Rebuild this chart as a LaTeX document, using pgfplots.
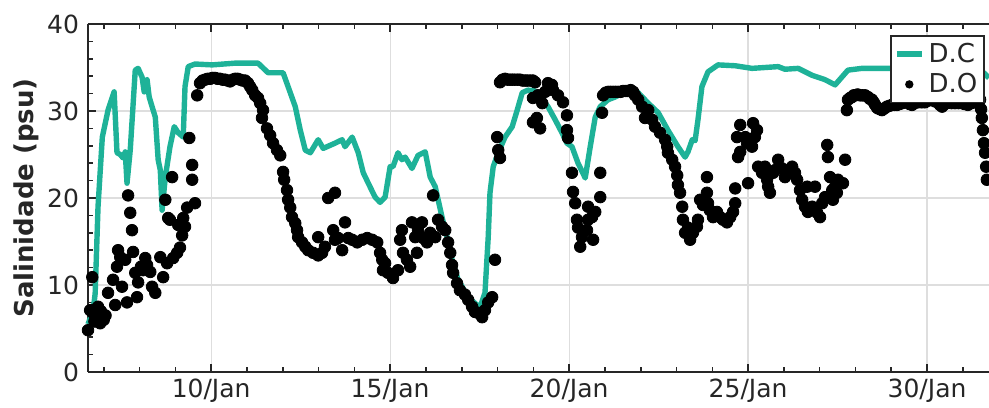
\documentclass[border=0pt]{standalone}
\usepackage{fontspec}
\setmainfont{DejaVu Sans}
\usepackage{pgfplots}
\usepackage{pgfplotstable}
\pgfplotsset{compat=1.18}

\definecolor{dcteal}{RGB}{30,178,152}
\definecolor{axisgray}{RGB}{38,38,38}
\definecolor{gridgray}{RGB}{222,222,222}

\pgfplotsset{
  dolegend/.style={legend image code/.code={
      \path[draw=none] (0pt,0pt) -- (12.5pt,0pt);
      \fill[black, draw=none] (6.25pt,0pt) circle (2.1pt);}},
  dclegend/.style={legend image code/.code={
      \draw[##1] (0pt,0pt) -- (12.5pt,0pt);}},
}

% D.C : continuous salinity record (day of January, psu)
\pgfplotstableread{
day sal
6.56 5.5
6.70 7.0
6.76 9.0
6.80 14.0
6.84 19.0
6.90 23.0
6.96 27.0
7.12 30.1
7.29 32.2
7.37 25.2
7.46 25.0
7.54 24.6
7.60 25.3
7.65 21.7
7.74 25.5
7.88 34.7
7.96 34.9
8.07 33.9
8.13 32.2
8.21 33.6
8.27 31.6
8.35 30.5
8.44 29.3
8.52 24.4
8.58 23.2
8.63 18.6
8.72 22.4
8.85 25.9
8.97 28.2
9.08 27.5
9.22 27.0
9.27 32.8
9.36 35.1
9.55 35.4
10.03 35.3
10.67 35.5
11.31 35.5
11.59 34.4
12.01 34.4
12.15 32.8
12.35 30.5
12.49 27.8
12.63 25.5
12.77 25.2
12.99 26.7
13.13 25.7
13.46 26.3
13.66 26.7
13.74 25.9
13.94 27.0
14.11 25.2
14.25 22.9
14.39 21.7
14.58 20.1
14.72 19.5
14.86 20.1
15.00 23.6
15.08 23.6
15.22 25.2
15.33 24.4
15.42 24.7
15.61 23.4
15.78 24.9
15.98 25.3
16.12 22.4
16.26 21.3
16.45 17.8
16.59 15.5
16.73 12.9
16.90 10.6
17.18 8.6
17.51 7.4
17.65 9.1
17.74 15.5
17.79 20.6
17.88 23.6
18.02 25.2
18.21 27.0
18.41 28.2
18.55 30.1
18.69 32.1
18.85 32.4
19.05 32.3
19.25 31.3
19.41 30.5
19.61 29.0
19.80 27.5
19.94 26.3
20.08 25.9
20.25 24.0
20.45 22.3
20.59 25.9
20.73 29.3
20.87 30.5
21.09 31.3
21.28 31.6
21.56 32.2
21.76 32.6
21.93 32.1
22.21 30.9
22.49 29.8
22.76 27.8
23.04 25.9
23.24 24.7
23.32 25.3
23.44 26.7
23.52 26.6
23.60 29.0
23.71 32.8
23.88 34.5
24.16 35.3
24.64 35.2
25.11 34.9
25.84 35.1
26.03 34.8
26.40 34.9
26.79 34.1
27.15 33.6
27.43 33.0
27.79 34.7
28.18 34.9
29.30 34.9
31.48 34.8
31.73 33.8
}\dctable

% D.O : discrete observations (day of January, psu)
\pgfplotstableread{
day sal
6.56 4.8
6.62 7.1
6.68 10.9
6.70 6.8
6.74 5.8
6.76 7.2
6.80 6.0
6.84 7.5
6.86 6.7
6.90 5.6
6.92 7.0
6.95 6.3
7.00 6.0
7.05 6.5
7.12 9.1
7.26 10.6
7.32 7.7
7.37 12.1
7.40 14.0
7.46 13.2
7.51 9.8
7.60 12.9
7.65 8.0
7.68 20.3
7.74 18.3
7.79 16.3
7.82 13.8
7.88 11.4
7.93 8.6
7.96 10.3
8.04 12.1
8.10 11.7
8.16 13.1
8.21 12.3
8.30 11.5
8.35 9.8
8.44 9.1
8.58 13.2
8.66 10.9
8.72 19.8
8.77 12.5
8.80 17.7
8.85 17.5
8.91 22.4
8.94 13.1
9.05 13.7
9.08 16.9
9.13 14.3
9.19 15.7
9.22 17.7
9.27 16.7
9.33 18.9
9.39 26.9
9.47 23.8
9.47 22.1
9.55 19.4
9.61 31.8
9.69 33.2
9.76 33.5
9.83 33.6
9.90 33.7
9.97 33.7
10.04 33.8
10.11 33.8
10.18 33.7
10.25 33.7
10.32 33.6
10.39 33.6
10.46 33.5
10.53 33.4
10.60 33.6
10.67 33.7
10.74 33.7
10.81 33.6
10.88 33.5
10.95 33.5
11.03 33.2
11.09 32.8
11.15 32.4
11.23 31.8
11.31 31.5
11.37 30.9
11.42 29.2
11.45 30.1
11.56 28.0
11.65 27.2
11.73 26.3
11.84 25.5
11.93 24.9
12.01 23.0
12.04 22.1
12.12 20.9
12.15 19.8
12.21 18.9
12.26 17.8
12.35 17.1
12.40 16.3
12.43 15.5
12.54 14.9
12.63 14.4
12.71 14.0
12.85 13.7
12.99 13.4
12.99 15.5
13.10 13.7
13.18 14.4
13.27 20.0
13.41 16.3
13.46 20.6
13.46 15.2
13.55 15.4
13.66 14.0
13.74 17.2
13.83 15.4
13.94 15.2
14.08 14.9
14.22 15.2
14.36 15.4
14.50 15.2
14.64 14.9
14.72 13.7
14.78 12.9
14.80 11.7
14.86 12.5
14.94 11.4
15.08 10.8
15.22 11.7
15.28 15.2
15.33 16.3
15.36 13.7
15.47 12.9
15.56 12.1
15.61 17.2
15.70 15.5
15.75 13.7
15.78 16.3
15.89 17.2
15.92 15.4
16.03 14.9
16.12 16.0
16.20 20.3
16.26 15.5
16.34 17.5
16.45 16.7
16.54 16.3
16.62 14.9
16.68 13.7
16.73 12.3
16.76 11.4
16.87 10.2
16.95 9.4
17.09 8.9
17.18 8.3
17.29 7.5
17.37 6.9
17.46 6.8
17.57 6.3
17.65 7.1
17.74 8.0
17.85 8.6
17.93 12.9
17.99 27.0
18.02 25.5
18.07 24.6
18.07 33.3
18.14 33.6
18.21 33.7
18.28 33.6
18.35 33.6
18.41 33.6
18.48 33.6
18.56 33.6
18.63 33.6
18.70 33.5
18.77 33.5
18.83 33.5
18.91 33.5
18.99 33.5
18.99 31.5
18.99 28.7
19.05 33.3
19.10 29.2
19.13 31.8
19.19 28.0
19.25 30.9
19.33 32.2
19.41 33.2
19.52 33.0
19.55 32.4
19.69 31.8
19.83 31.0
19.94 29.5
19.94 27.8
19.97 26.9
20.08 22.9
20.11 20.7
20.17 19.4
20.22 17.5
20.25 16.6
20.31 14.4
20.36 15.5
20.50 16.3
20.53 17.5
20.53 19.0
20.64 17.8
20.67 15.2
20.73 18.4
20.87 22.9
20.87 20.1
20.92 29.8
20.95 31.8
21.02 32.1
21.09 32.2
21.16 32.2
21.23 32.2
21.30 32.2
21.37 32.2
21.44 32.2
21.51 32.3
21.58 32.3
21.65 32.3
21.72 32.4
21.79 32.2
21.84 31.8
21.93 31.3
22.04 30.5
22.12 29.2
22.21 30.1
22.32 29.0
22.40 28.2
22.54 27.5
22.68 26.7
22.74 25.9
22.76 25.2
22.88 24.4
22.96 23.6
23.02 22.6
23.04 21.5
23.10 20.6
23.16 19.0
23.18 17.5
23.24 16.0
23.32 16.6
23.38 15.2
23.46 16.0
23.57 16.7
23.60 17.5
23.66 19.8
23.74 19.2
23.85 20.6
23.85 22.4
23.88 19.4
23.93 18.6
24.02 17.8
24.13 18.4
24.22 17.8
24.30 17.5
24.41 17.2
24.50 17.8
24.58 18.4
24.64 19.4
24.64 21.1
24.69 27.0
24.72 24.7
24.78 25.3
24.78 28.4
24.92 27.0
24.97 26.3
25.00 21.7
25.11 25.9
25.14 28.6
25.19 27.0
25.25 27.8
25.28 23.6
25.39 22.9
25.47 23.6
25.53 22.1
25.56 21.3
25.61 20.6
25.70 22.9
25.75 23.2
25.84 24.4
25.95 23.4
26.03 22.4
26.12 22.9
26.23 23.6
26.31 22.9
26.37 22.1
26.45 20.9
26.51 19.8
26.59 19.0
26.65 21.3
26.67 18.4
26.79 19.0
26.87 21.3
26.93 18.3
27.01 17.8
27.07 19.4
27.15 20.1
27.21 26.1
27.23 24.7
27.29 22.4
27.35 20.9
27.37 19.8
27.43 21.3
27.48 20.6
27.51 22.1
27.65 21.7
27.71 24.4
27.76 30.1
27.79 31.3
27.85 31.5
27.90 31.6
27.95 31.8
27.99 31.8
28.06 31.9
28.13 31.8
28.20 31.8
28.27 31.8
28.35 31.6
28.40 31.4
28.46 31.3
28.51 31.0
28.55 30.7
28.60 30.4
28.63 30.3
28.69 30.2
28.74 30.1
28.81 30.3
28.88 30.5
28.95 30.6
29.02 30.7
29.09 30.7
29.16 30.7
29.23 30.8
29.30 30.9
29.37 31.0
29.44 31.0
29.51 30.8
29.58 30.7
29.65 30.9
29.75 31.0
29.85 31.0
29.94 31.0
30.04 31.2
30.14 31.3
30.22 31.1
30.31 31.0
30.36 30.7
30.42 30.5
30.50 30.8
30.58 31.0
30.68 30.9
30.78 30.9
30.88 30.9
30.97 30.9
31.05 30.8
31.14 30.7
31.24 30.9
31.34 31.0
31.41 31.2
31.48 31.3
31.51 30.2
31.53 29.2
31.56 27.8
31.59 26.3
31.62 25.2
31.65 23.6
31.67 22.1
}\dotable

\begin{document}
\begin{tikzpicture}
\begin{axis}[
  scale only axis,
  width=450.5pt, height=174pt,
  xmin=6.56, xmax=31.73,
  ymin=0, ymax=40,
  axis x line=box, axis y line=left,
  axis line style={-, draw=axisgray, line width=1pt},
  every outer y axis line/.append style={-},
  xtick={10,15,20,25,30},
  xticklabels={10/Jan,15/Jan,20/Jan,25/Jan,30/Jan},
  minor xtick={7,...,31},
  ytick={0,10,20,30,40},
  minor ytick={2,4,...,38},
  tick align=inside,
  major tick length=4pt, minor tick length=2.5pt,
  tick style={draw=axisgray, line width=0.8pt},
  grid=major,
  major grid style={draw=gridgray, line width=0.6pt},
  /pgf/number format/assume math mode=true,
  tick label style={font=\fontsize{12.5}{15}\selectfont, text=axisgray},
  yticklabel style={xshift=-1pt},
  ylabel={Salinidade (psu)},
  ylabel style={font=\bfseries\fontsize{13}{15}\selectfont, text=axisgray,
    at={(axis description cs:-0.0600,0.5)}, anchor=base},
  legend style={at={(axis description cs:0.9956,0.968)}, anchor=north east,
    draw=axisgray, line width=0.8pt, fill=white,
    font=\fontsize{13}{15}\selectfont, text=axisgray,
    inner sep=1.5pt, row sep=0pt, cells={anchor=west}},
  reverse legend,
  clip=false,
]
\addplot[only marks, mark=*, mark size=2.9pt, black, dolegend]
  table[x=day, y=sal] {\dotable};
\addlegendentry{D.O}
\addplot[dcteal, line width=2.7pt, line join=round, mark=none, dclegend]
  table[x=day, y=sal] {\dctable};
\addlegendentry{D.C}
\end{axis}
\pgfresetboundingbox
\path[use as bounding box] (-44pt,-17.5pt) rectangle (450.5pt,186pt);
\end{tikzpicture}
\end{document}
